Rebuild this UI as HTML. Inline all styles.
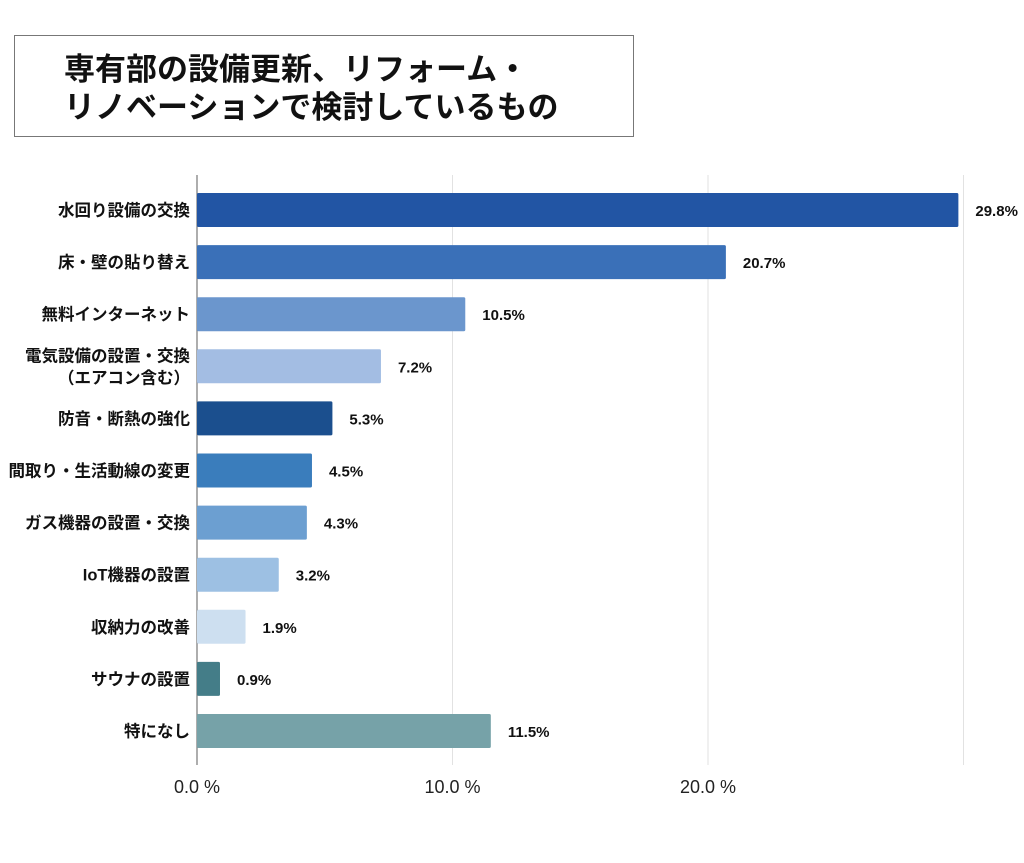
<!DOCTYPE html>
<html><head><meta charset="utf-8"><style>
body{margin:0;background:#fff;}
svg text{font-family:"Liberation Sans","Noto Sans CJK JP",sans-serif;}
</style></head><body>
<svg width="1024" height="858" viewBox="0 0 1024 858" xmlns="http://www.w3.org/2000/svg" id="chart">
<rect x="14.5" y="35.5" width="619" height="101" fill="#fff" stroke="#777" stroke-width="1"/>
<text x="64" y="80" font-size="31" font-weight="bold" fill="#111">専有部の設備更新、リフォーム・</text>
<text x="64" y="118" font-size="31" font-weight="bold" fill="#111">リノベーションで検討しているもの</text>
<g id="grid"></g><g id="bars"></g><g id="labels"></g>
</svg>
<script>
const categories=[["水回り設備の交換"],["床・壁の貼り替え"],["無料インターネット"],["電気設備の設置・交換","（エアコン含む）"],["防音・断熱の強化"],["間取り・生活動線の変更"],["ガス機器の設置・交換"],["IoT機器の設置"],["収納力の改善"],["サウナの設置"],["特になし"]];
const values=[29.8,20.7,10.5,7.2,5.3,4.5,4.3,3.2,1.9,0.9,11.5];
const tickValues=[0,10,20];
const tickLabels=["0.0 %","10.0 %","20.0 %"];
const colors=["#2255a4","#3a70b8","#6b96cd","#a3bde3","#1b4f8e","#3a7dbc","#6c9fd1","#9dc0e3","#cddff0","#447d88","#76a2a8"];
const NS="http://www.w3.org/2000/svg";
const x=v=>197+v*25.55;
const y=i=>210+i*52.1;
const grid=document.getElementById('grid'),bars=document.getElementById('bars'),labels=document.getElementById('labels');
function mk(tag,attrs,parent){const e=document.createElementNS(NS,tag);for(const k in attrs)e.setAttribute(k,attrs[k]);parent.appendChild(e);return e;}
[10,20,30].forEach(v=>{
 const l=mk('line',{x1:x(v),x2:x(v),y1:175,y2:765,stroke:'#e2e2e2','stroke-width':1},grid);
 
 
});
const ax=mk('line',{x1:197,x2:197,y1:175,y2:765,stroke:'#777','stroke-width':1.2},grid);


tickValues.forEach((v,i)=>{
 const t=mk('text',{x:x(v),y:793,'font-size':18,'text-anchor':'middle',fill:'#222'},labels);
 t.textContent=tickLabels[i];
 
 
});
values.forEach((v,i)=>{
 const r=mk('rect',{x:197,y:y(i)-17,width:x(v)-197,height:34,rx:1.5,fill:colors[i]},bars);
 
 
 const vt=mk('text',{x:x(v)+17,y:y(i)+6,'font-size':15,'font-weight':'bold',fill:'#111'},labels);
 vt.textContent=v.toFixed(1)+'%';
 
 
 const lines=categories[i];
 lines.forEach((s,j)=>{
  const cy=y(i)+6+(j-(lines.length-1)/2)*22;
  const ct=mk('text',{x:190,y:cy,'font-size':16.5,'font-weight':'bold','text-anchor':'end',fill:'#111'},labels);
  ct.textContent=s;
  
  
 });
});
</script>
</body></html>
